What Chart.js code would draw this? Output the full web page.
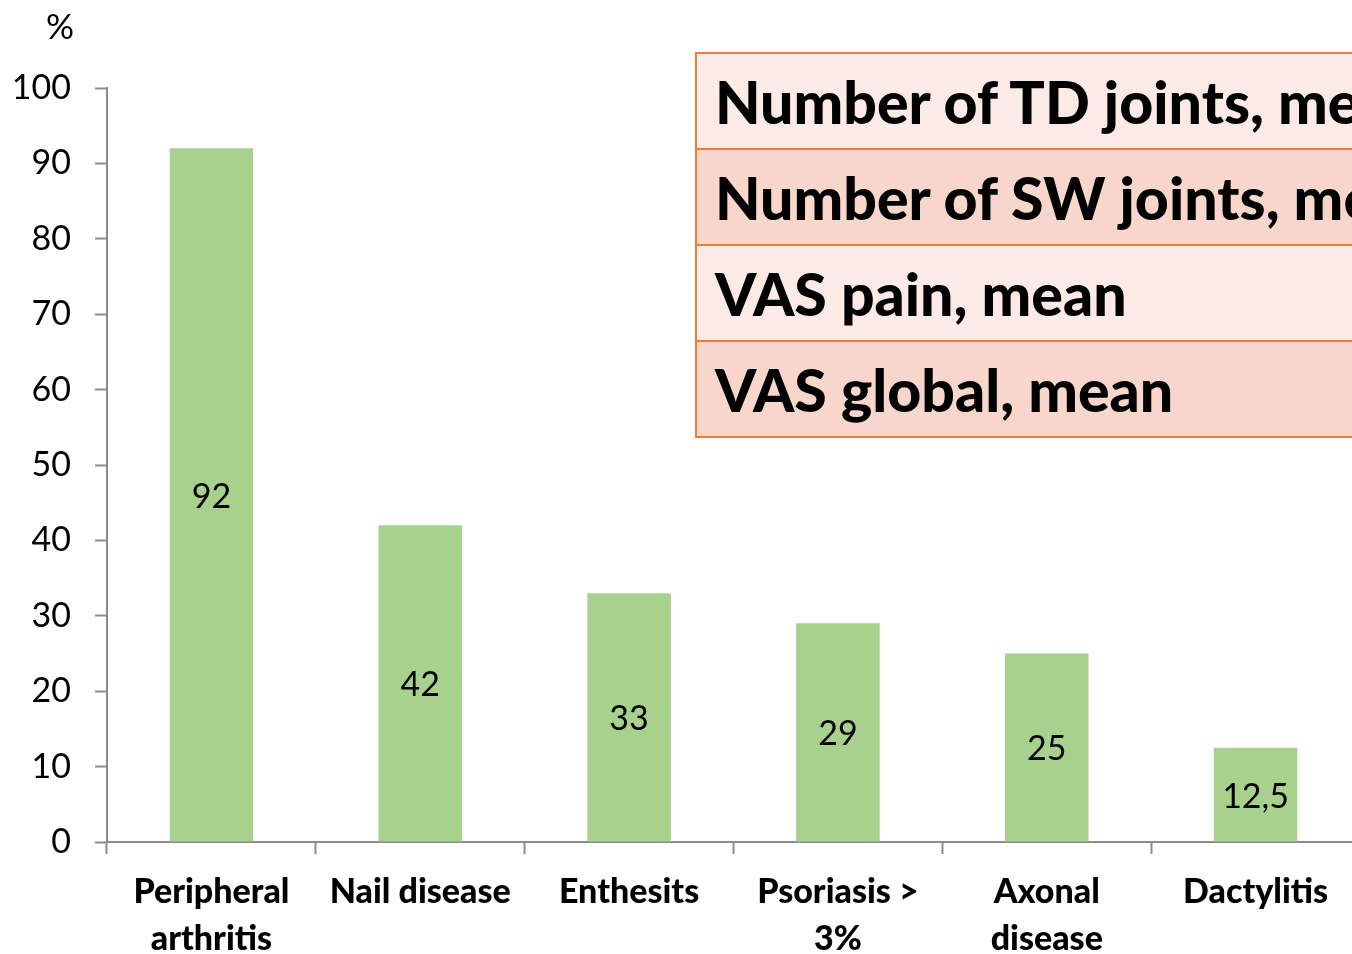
<!DOCTYPE html>
<html>
<head>
<meta charset="utf-8">
<script src="https://cdn.jsdelivr.net/npm/chart.js@4.4.0/dist/chart.umd.min.js"></script>
<style>
  html, body { margin: 0; padding: 0; background: #fff; overflow: hidden; }
  #wrap { position: relative; width: 1360px; height: 954px; }
  #pct { position: absolute; left: 46px; top: 4px; font: 35px Lato, sans-serif; }
  table { position: absolute; left: 695px; top: 52px; width: 700px; border-collapse: collapse;
          font: 900 59px Lato, sans-serif; }
  td { height: 94px; padding: 0 0 0 18px; border-top: 2px solid #ed7d31; border-bottom: 2px solid #ed7d31;
       border-left: 2px solid #ed7d31; white-space: nowrap; overflow: hidden; }
  tr.a td { background: #fbeae6; }
  tr.b td { background: #f8d6cc; }
</style>
</head>
<body>
<div id="wrap">
  <canvas id="c" width="1360" height="954"></canvas>
  <div id="pct">%</div>
  <table id="tbl"></table>
</div>
<script>
const categories = [["Peripheral", "arthritis"], "Nail disease", "Enthesits", ["Psoriasis >", "3%"], ["Axonal", "disease"], "Dactylitis"];
const values = [92, 42, 33, 29, 25, 12.5];
const yTicks = [0, 10, 20, 30, 40, 50, 60, 70, 80, 90, 100];
const tableRows = ["Number of TD joints, mean", "Number of SW joints, mean", "VAS pain, mean", "VAS global, mean"];

const tbl = document.getElementById("tbl");
tableRows.forEach((t, i) => {
  const tr = document.createElement("tr");
  tr.className = i % 2 ? "b" : "a";
  const td = document.createElement("td");
  td.textContent = t;
  tr.appendChild(td);
  tbl.appendChild(tr);
});

// draws the value in the middle of each bar
const barValues = {
  id: "barValues",
  afterDatasetsDraw(chart) {
    const ctx = chart.ctx;
    ctx.save();
    ctx.font = "34px Lato, sans-serif";
    ctx.fillStyle = "#000";
    ctx.textAlign = "center";
    ctx.textBaseline = "middle";
    chart.getDatasetMeta(0).data.forEach((bar, i) => {
      const p = bar.getProps(["x", "y", "base"], true);
      ctx.fillText(String(values[i]).replace(".", ","), p.x, (p.y + p.base) / 2 + 2);
    });
    ctx.restore();
  }
};

const gray = "#8c8c8c";
new Chart(document.getElementById("c"), {
  type: "bar",
  data: {
    labels: categories,
    datasets: [{
      data: values,
      backgroundColor: "#a9d18e",
      barPercentage: 0.4,
      categoryPercentage: 1
    }]
  },
  options: {
    responsive: false,
    animation: false,
    layout: { padding: { top: 88, left: 0, right: 0, bottom: 0 } },
    plugins: { legend: { display: false }, tooltip: { enabled: false } },
    scales: {
      x: {
        grid: { drawOnChartArea: false, tickLength: 12, color: gray, tickWidth: 2 },
        border: { color: gray, width: 2 },
        ticks: { color: "#000", font: { family: "Lato, sans-serif", size: 34, weight: "900", lineHeight: 1.4 },
                 padding: 14, maxRotation: 0, autoSkip: false },
        afterFit(s) { s.height = 112; }
      },
      y: {
        min: 0, max: 100,
        afterBuildTicks(s) { s.ticks = yTicks.map(v => ({ value: v })); },
        grid: { drawOnChartArea: false, tickLength: 12, color: gray, tickWidth: 2 },
        border: { color: gray, width: 2 },
        ticks: { color: "#000", font: { family: "Lato, sans-serif", size: 34 }, padding: 24 },
        afterFit(s) { s.width = 107; }
      }
    }
  },
  plugins: [barValues]
});
</script>
</body>
</html>
